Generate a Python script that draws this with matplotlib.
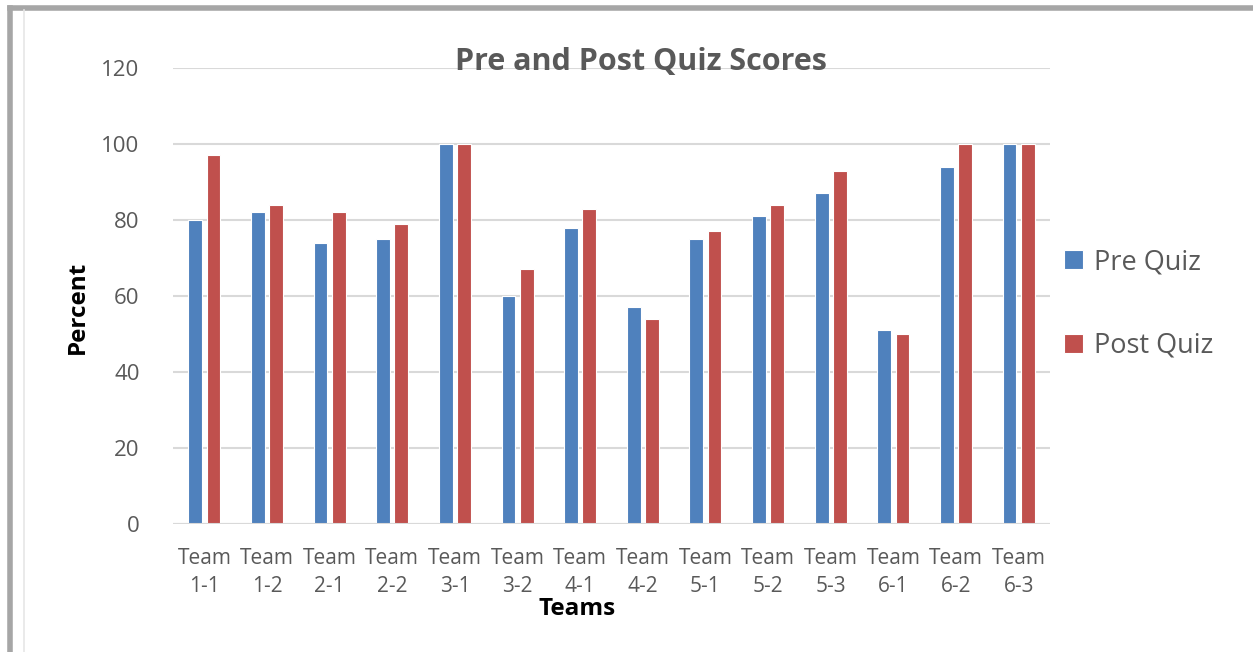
import matplotlib.pyplot as plt
import numpy as np
from matplotlib.lines import Line2D

plt.rcParams['font.family'] = ['Open Sans', 'DejaVu Sans']

teams = ["Team\n1-1", "Team\n1-2", "Team\n2-1", "Team\n2-2", "Team\n3-1", "Team\n3-2", "Team\n4-1",
         "Team\n4-2", "Team\n5-1", "Team\n5-2", "Team\n5-3", "Team\n6-1", "Team\n6-2", "Team\n6-3"]
pre_quiz = [80, 82, 74, 75, 100, 60, 78, 57, 75, 81, 87, 51, 94, 100]
post_quiz = [97, 84, 82, 79, 100, 67, 83, 54, 77, 84, 93, 50, 100, 100]

blue = "#4f81bd"
red = "#c0504d"
grey_txt = "#595959"

fig = plt.figure(figsize=(12.53, 6.52), dpi=100)
ax = fig.add_axes([173 / 1253, 1 - 524 / 652, 877 / 1253, 456 / 652])

x = np.arange(len(teams))
ax.bar(x - 0.145, pre_quiz, width=0.22, color=blue, edgecolor="white", linewidth=0.8, label="Pre Quiz", zorder=3)
ax.bar(x + 0.145, post_quiz, width=0.22, color=red, edgecolor="white", linewidth=0.8, label="Post Quiz", zorder=3)

ax.set_xlim(-0.5, len(teams) - 0.5)
ax.set_ylim(0, 120)
ax.set_yticks(range(0, 121, 20))
ax.set_xticks(x)
ax.set_xticklabels(teams, fontsize=15, color=grey_txt, linespacing=1.45)
ax.tick_params(axis="y", labelsize=16, labelcolor=grey_txt, length=0, pad=24)
ax.tick_params(axis="x", length=0, pad=17)
ax.grid(axis="y", color="#d9d9d9", linewidth=1.5, zorder=0)
for s in ax.spines.values():
    s.set_visible(False)
ax.axhline(0, color="#d9d9d9", linewidth=1.5, zorder=4)

ax.set_xlabel("Teams", fontsize=17.5, fontweight="bold", color="black", va="center")
ax.xaxis.set_label_coords((577 - 173) / 877, (524 - 609) / 456)
ax.set_ylabel("Percent", fontsize=17.5, fontweight="bold", color="black", va="center")
ax.yaxis.set_label_coords((78 - 173) / 877, (524 - 307) / 456)

fig.text(641 / 1253, 1 - 62 / 652, "Pre and Post Quiz Scores", ha="center", va="center",
         fontsize=22, fontweight="bold", color=grey_txt)

ax.legend(loc="center left", bbox_to_anchor=(1.004, 0.482), frameon=False, fontsize=19.5,
          labelcolor=grey_txt, handlelength=0.7, handleheight=0.7, handletextpad=0.4,
          labelspacing=2.05, borderaxespad=0)

# grey frame of the chart area, cut at the right and bottom
fig.add_artist(Line2D([10 / 1253, 10 / 1253], [0, 1 - 8 / 652], color="#a6a6a6", linewidth=4))
fig.add_artist(Line2D([10 / 1253, 1], [1 - 8 / 652, 1 - 8 / 652], color="#a6a6a6", linewidth=4))
fig.add_artist(Line2D([24 / 1253, 24 / 1253], [0, 1 - 10 / 652], color="#e6e6e6", linewidth=1.2))

fig.savefig("out.png", dpi=100, facecolor="white")
